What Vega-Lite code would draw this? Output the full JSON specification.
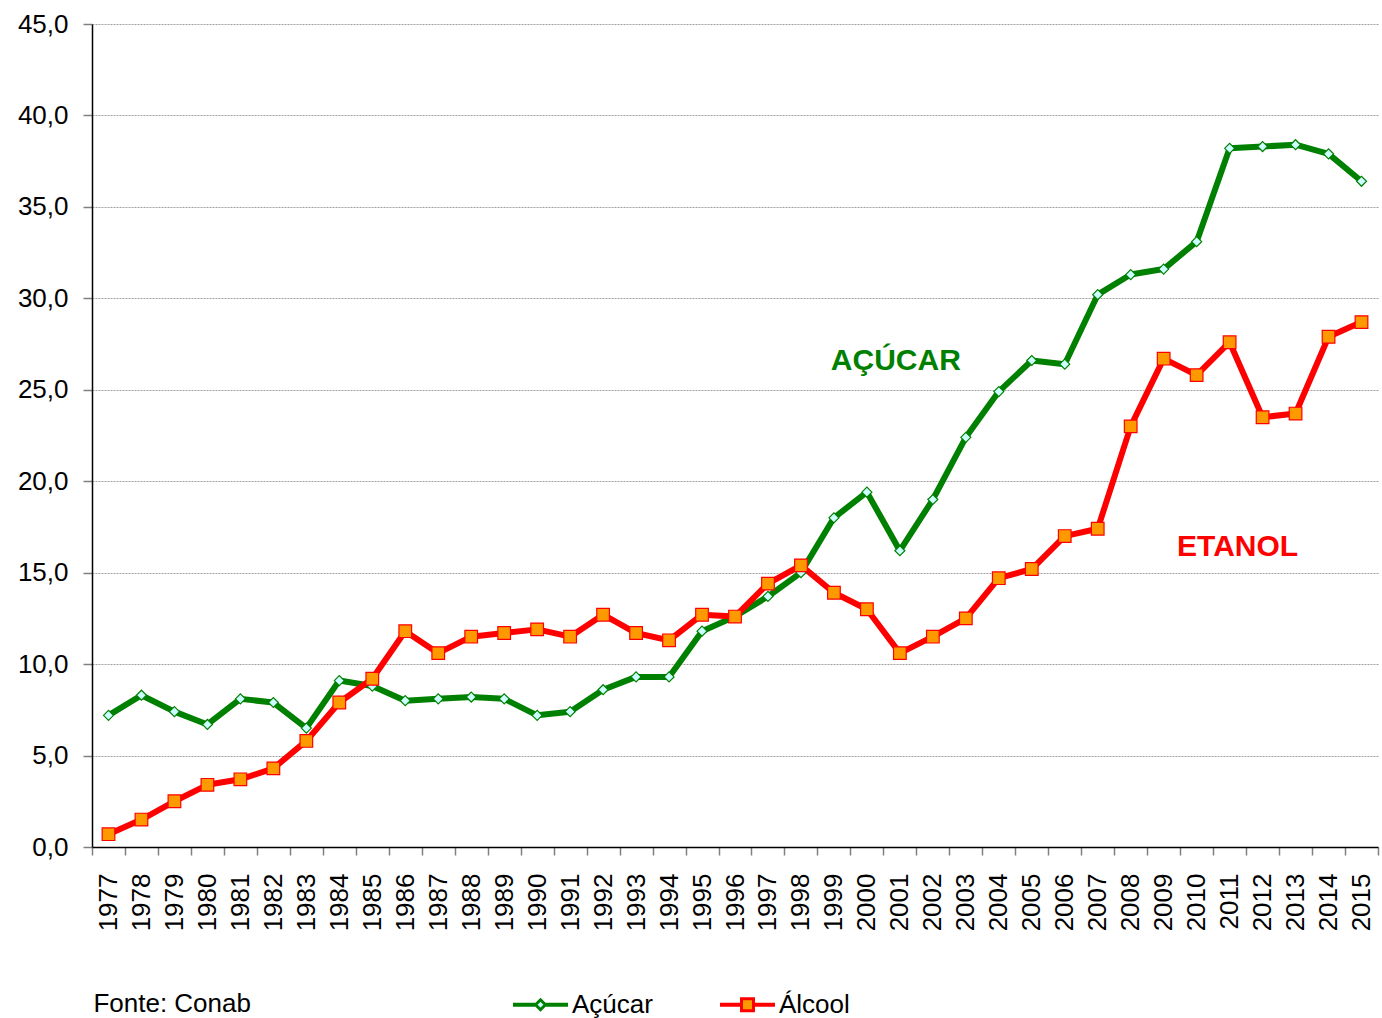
{
  "$schema": "https://vega.github.io/schema/vega-lite/v6.json",
  "width": 1286,
  "height": 823,
  "autosize": "none",
  "padding": {"left": 92, "top": 24, "right": 4, "bottom": 171},
  "background": "white",
  "config": {
    "font": "Liberation Sans",
    "view": {"stroke": null},
    "axis": {"labelFont": "Liberation Sans", "labelFontSize": 26, "labelColor": "black", "domainColor": "black", "domainWidth": 1.5, "tickColor": "#808080", "tickWidth": 1.5}
  },
  "title": {"text": "Fonte: Conab", "orient": "bottom", "anchor": "start", "fontSize": 26, "fontWeight": "normal", "color": "black", "offset": 0, "dy": -27, "dx": 76, "baseline": "top"},
  "datasets": {
    "serie": [
      {"ano": "1977", "Açúcar": 7.2, "Álcool": 0.7},
      {"ano": "1978", "Açúcar": 8.3, "Álcool": 1.5},
      {"ano": "1979", "Açúcar": 7.4, "Álcool": 2.5},
      {"ano": "1980", "Açúcar": 6.7, "Álcool": 3.4},
      {"ano": "1981", "Açúcar": 8.1, "Álcool": 3.7},
      {"ano": "1982", "Açúcar": 7.9, "Álcool": 4.3},
      {"ano": "1983", "Açúcar": 6.5, "Álcool": 5.8},
      {"ano": "1984", "Açúcar": 9.1, "Álcool": 7.9},
      {"ano": "1985", "Açúcar": 8.8, "Álcool": 9.2},
      {"ano": "1986", "Açúcar": 8.0, "Álcool": 11.8},
      {"ano": "1987", "Açúcar": 8.1, "Álcool": 10.6},
      {"ano": "1988", "Açúcar": 8.2, "Álcool": 11.5},
      {"ano": "1989", "Açúcar": 8.1, "Álcool": 11.7},
      {"ano": "1990", "Açúcar": 7.2, "Álcool": 11.9},
      {"ano": "1991", "Açúcar": 7.4, "Álcool": 11.5},
      {"ano": "1992", "Açúcar": 8.6, "Álcool": 12.7},
      {"ano": "1993", "Açúcar": 9.3, "Álcool": 11.7},
      {"ano": "1994", "Açúcar": 9.3, "Álcool": 11.3},
      {"ano": "1995", "Açúcar": 11.8, "Álcool": 12.7},
      {"ano": "1996", "Açúcar": 12.6, "Álcool": 12.6},
      {"ano": "1997", "Açúcar": 13.7, "Álcool": 14.4},
      {"ano": "1998", "Açúcar": 15.0, "Álcool": 15.4},
      {"ano": "1999", "Açúcar": 18.0, "Álcool": 13.9},
      {"ano": "2000", "Açúcar": 19.4, "Álcool": 13.0},
      {"ano": "2001", "Açúcar": 16.2, "Álcool": 10.6},
      {"ano": "2002", "Açúcar": 19.0, "Álcool": 11.5},
      {"ano": "2003", "Açúcar": 22.4, "Álcool": 12.5},
      {"ano": "2004", "Açúcar": 24.9, "Álcool": 14.7},
      {"ano": "2005", "Açúcar": 26.6, "Álcool": 15.2},
      {"ano": "2006", "Açúcar": 26.4, "Álcool": 17.0},
      {"ano": "2007", "Açúcar": 30.2, "Álcool": 17.4},
      {"ano": "2008", "Açúcar": 31.3, "Álcool": 23.0},
      {"ano": "2009", "Açúcar": 31.6, "Álcool": 26.7},
      {"ano": "2010", "Açúcar": 33.1, "Álcool": 25.8},
      {"ano": "2011", "Açúcar": 38.2, "Álcool": 27.6},
      {"ano": "2012", "Açúcar": 38.3, "Álcool": 23.5},
      {"ano": "2013", "Açúcar": 38.4, "Álcool": 23.7},
      {"ano": "2014", "Açúcar": 37.9, "Álcool": 27.9},
      {"ano": "2015", "Açúcar": 36.4, "Álcool": 28.7}
    ],
    "rotulos": [
      {"rotulo": "AÇÚCAR", "ano": "2001", "v": 26.6},
      {"rotulo": "ETANOL", "ano": "2011", "v": 16.4}
    ]
  },
  "layer": [
    {
      "data": {"name": "serie"},
      "transform": [{"fold": ["Açúcar", "Álcool"], "as": ["produto", "valor"]}],
      "encoding": {
        "x": {"field": "ano", "type": "ordinal", "scale": {"type": "band", "paddingInner": 0, "paddingOuter": 0},
          "axis": {"title": null, "labelAngle": 270, "tickBand": "extent", "tickSize": 8, "labelPadding": 18, "grid": false}},
        "y": {"field": "valor", "type": "quantitative", "scale": {"domain": [0, 45], "nice": false},
          "axis": {"title": null, "values": [0,5,10,15,20,25,30,35,40,45], "labelExpr": "replace(format(datum.value, '.1f'), '.', ',')", "tickSize": 9, "labelPadding": 15, "grid": true, "gridColor": "#a0a0a0", "gridDash": [2, 1], "gridWidth": 1}}
      },
      "layer": [
        {
          "mark": {"type": "line", "strokeWidth": 6, "strokeJoin": "round"},
          "encoding": {
            "color": {"field": "produto", "type": "nominal", "scale": {"domain": ["Açúcar", "Álcool"], "range": ["#008000", "#ff0000"]},
              "legend": {"title": null, "orient": "none", "direction": "horizontal", "legendX": 421, "legendY": 953,
                "symbolSize": 2704, "symbolStrokeWidth": 3, "labelFontSize": 26, "labelColor": "black", "labelOffset": 4, "columnPadding": 62,
                "labelFont": "Liberation Sans",
                "encode": {"symbols": {"update": {
                  "shape": {"signal": "datum.value === 'Açúcar' ? 'M-1,-0.02L-0.22,-0.02L-0.22,0.02L-1,0.02ZM0.22,-0.02L1,-0.02L1,0.02L0.22,0.02ZM-0.19,0L0,-0.19L0.19,0L0,0.19Z' : 'M-1,-0.02L-0.24,-0.02L-0.24,0.02L-1,0.02ZM0.24,-0.02L1,-0.02L1,0.02L0.24,0.02ZM-0.23,-0.23L0.23,-0.23L0.23,0.23L-0.23,0.23Z'"},
                  "fill": {"signal": "datum.value === 'Açúcar' ? '#ccffff' : '#ff9900'"},
                  "size": {"value": 2704},
                  "strokeWidth": {"value": 3}
                }}}}}
          }
        },
        {
          "transform": [{"filter": "datum.produto === 'Açúcar'"}],
          "mark": {"type": "point", "shape": "diamond", "filled": true, "fill": "#ccffff", "stroke": "#008000", "strokeWidth": 1.2, "size": 100, "opacity": 1}
        },
        {
          "transform": [{"filter": "datum.produto === 'Álcool'"}],
          "mark": {"type": "point", "shape": "square", "filled": true, "fill": "#ff9900", "stroke": "#ff0000", "strokeWidth": 1.2, "size": 160, "opacity": 1}
        }
      ]
    },
    {
      "data": {"name": "rotulos"},
      "transform": [{"filter": "datum.rotulo === 'AÇÚCAR'"}],
      "mark": {"type": "text", "fontSize": 30, "fontWeight": "bold", "color": "#008000", "dx": -4, "baseline": "middle", "align": "center"},
      "encoding": {
        "x": {"field": "ano", "type": "ordinal"},
        "y": {"field": "v", "type": "quantitative"},
        "text": {"field": "rotulo"}
      }
    },
    {
      "data": {"name": "rotulos"},
      "transform": [{"filter": "datum.rotulo === 'ETANOL'"}],
      "mark": {"type": "text", "fontSize": 30, "fontWeight": "bold", "color": "#ff0000", "dx": 8, "baseline": "middle", "align": "center"},
      "encoding": {
        "x": {"field": "ano", "type": "ordinal"},
        "y": {"field": "v", "type": "quantitative"},
        "text": {"field": "rotulo"}
      }
    }
  ]
}
